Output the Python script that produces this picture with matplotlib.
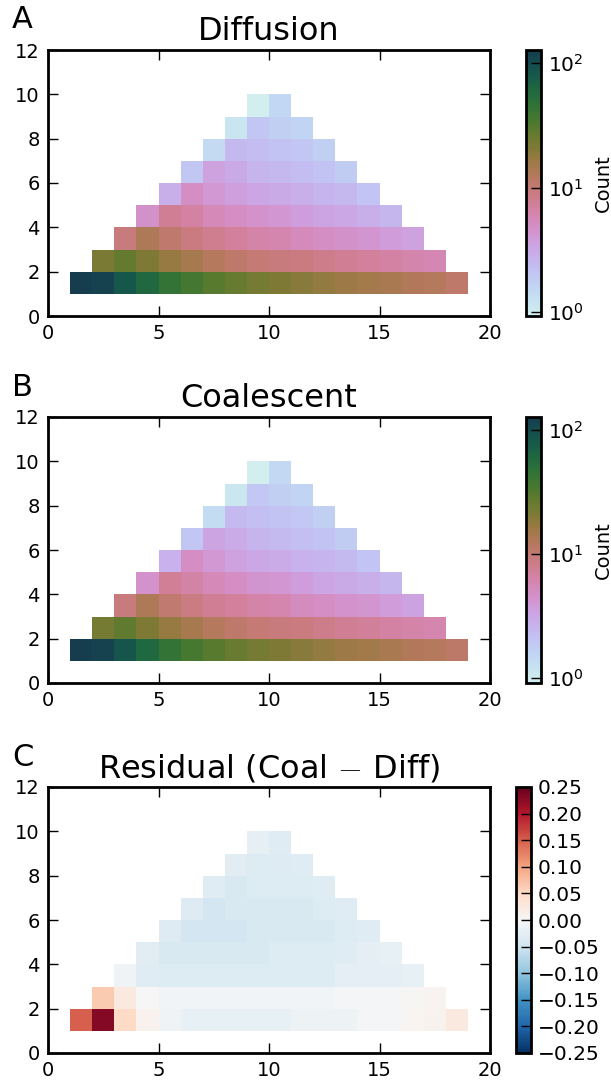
import numpy as np
import matplotlib
matplotlib.use("Agg")
import matplotlib.pyplot as plt
from matplotlib.colors import LogNorm, ListedColormap

# triangle rows, bottom row first; row k (y = k+1) starts at x = k+1
diff_rows = [
    [127, 114, 83, 59, 45, 36, 30, 26, 23, 21, 19.5, 17.5, 16, 15, 14, 13, 12, 11],
    [22, 27, 21, 16.6, 14.4, 12.1, 10.9, 9.8, 9.4, 9.1, 8.2, 7.6, 7.1, 6.6, 6.2, 5.8],
    [9.4, 13.4, 10.5, 9.1, 7.9, 7.1, 6.4, 6.0, 5.4, 5.0, 4.7, 4.4, 3.9, 3.5],
    [4.7, 7.6, 6.6, 5.6, 5.0, 4.5, 4.2, 3.8, 3.4, 3.2, 2.86, 2.58],
    [2.86, 5.0, 4.1, 3.66, 3.3, 3.07, 2.86, 2.67, 2.49, 2.08],
    [2.0, 3.5, 3.07, 2.67, 2.49, 2.32, 2.16, 1.88],
    [1.42, 2.49, 2.32, 2.16, 2.0, 1.75],
    [1.15, 2.0, 1.75, 1.63],
    [0.93, 1.52],
]
coal_rows = [
    [127, 116, 84, 59, 44, 35, 29.5, 25.5, 22.5, 20.8, 19.3, 17.3, 15.9, 15, 14, 13, 12.1, 11.2],
    [23, 27.5, 21, 16.5, 14.2, 12, 10.8, 9.7, 9.3, 9.0, 8.1, 7.5, 7.1, 6.6, 6.2, 5.8],
    [9.3, 13.1, 10.2, 8.8, 7.7, 6.9, 6.2, 5.8, 5.2, 4.9, 4.6, 4.3, 3.8, 3.4],
    [4.6, 7.4, 6.4, 5.4, 4.8, 4.4, 4.1, 3.7, 3.3, 3.1, 2.8, 2.53],
    [2.78, 4.8, 3.95, 3.52, 3.18, 2.96, 2.76, 2.58, 2.41, 2.02],
    [1.94, 3.36, 2.96, 2.58, 2.4, 2.24, 2.09, 1.83],
    [1.38, 2.4, 2.24, 2.09, 1.93, 1.7],
    [1.12, 1.93, 1.7, 1.58],
    [0.91, 1.47],
]
resid_rows = [
    [0.15, 0.23, 0.05, 0.01, -0.01, -0.02, -0.02, -0.02, -0.02, -0.02, -0.012, -0.012, -0.012,
     -0.005, -0.005, 0.005, 0.008, 0.025],
    [0.065, 0.025, 0.0, -0.008, -0.008, -0.008, -0.008, -0.008, -0.008, -0.008, -0.008, -0.004,
     -0.004, -0.004, 0.002, 0.006],
    [-0.01, -0.03, -0.035, -0.035, -0.035, -0.035, -0.035, -0.035, -0.035, -0.035, -0.025, -0.025,
     -0.025, -0.02],
    [-0.028, -0.04, -0.04, -0.04, -0.04, -0.04, -0.035, -0.035, -0.035, -0.03, -0.025, -0.02],
    [-0.032, -0.045, -0.045, -0.045, -0.04, -0.04, -0.04, -0.04, -0.035, -0.03],
    [-0.032, -0.045, -0.04, -0.04, -0.04, -0.04, -0.035, -0.03],
    [-0.03, -0.04, -0.035, -0.035, -0.035, -0.03],
    [-0.028, -0.035, -0.033, -0.03],
    [-0.022, -0.03],
]
resid_ticks = [-0.25, -0.20, -0.15, -0.10, -0.05, 0.0, 0.05, 0.10, 0.15, 0.20, 0.25]


def to_grid(rows):
    z = np.ma.masked_all((9, 18))
    for k, row in enumerate(rows):
        z[k, k:k + len(row)] = row
    return z


plt.rcParams.update({
    'font.family': 'DejaVu Sans',
    'mathtext.fontset': 'cm',
    'axes.linewidth': 2,
    'xtick.direction': 'in',
    'ytick.direction': 'in',
    'xtick.top': True,
    'ytick.right': True,
    'xtick.major.size': 7,
    'ytick.major.size': 7,
    'xtick.major.width': 1,
    'ytick.major.width': 1,
    'xtick.major.pad': 6,
    'ytick.major.pad': 6,
    'xtick.labelsize': 14,
    'ytick.labelsize': 14,
})

xe = np.arange(1, 20)
ye = np.arange(1, 11)
cmap = ListedColormap(plt.cm.cubehelix(np.linspace(0.9, 0.2, 256)))

fig = plt.figure(figsize=(6.11, 10.84), dpi=100)
W, H = 611.0, 1084.0

panels = [
    ('A', 'Diffusion', to_grid(diff_rows), 50),
    ('B', 'Coalescent', to_grid(coal_rows), 417),
    ('C', 'Residual (Coal $-$ Diff)', to_grid(resid_rows), 787),
]

for letter, title, z, top in panels:
    ax = fig.add_axes([48 / W, 1 - (top + 266) / H, 442 / W, 266 / H])
    if letter == 'C':
        m = ax.pcolormesh(xe, ye, z, cmap='RdBu_r', vmin=-0.25, vmax=0.25)
        cax = fig.add_axes([516 / W, 1 - (top + 266) / H, 15 / W, 266 / H])
        cb = fig.colorbar(m, cax=cax, ticks=resid_ticks)
        cb.ax.set_yticklabels([('%.2f' % v).replace('-', '\u2212') for v in resid_ticks])
    else:
        m = ax.pcolormesh(xe, ye, z, cmap=cmap, norm=LogNorm(vmin=z.min(), vmax=z.max()))
        cax = fig.add_axes([526 / W, 1 - (top + 266) / H, 15 / W, 266 / H])
        cb = fig.colorbar(m, cax=cax)
        cb.ax.minorticks_off()
        cb.set_label('Count', fontsize=14, labelpad=7)
    cb.outline.set_linewidth(2)
    cb.ax.tick_params(direction='in', length=7, width=1, right=True, left=False,
                      labelsize=14.5, pad=5)
    ax.set_xlim(0, 20)
    ax.set_ylim(0, 12)
    ax.set_xticks([0, 5, 10, 15, 20])
    ax.set_yticks([0, 2, 4, 6, 8, 10, 12])
    ax.set_title(title, fontsize=23, pad=7)
    fig.text(12 / W, 1 - (top - 30) / H, letter, fontsize=22, va='center', ha='left')

fig.savefig('out.png', dpi=100)
